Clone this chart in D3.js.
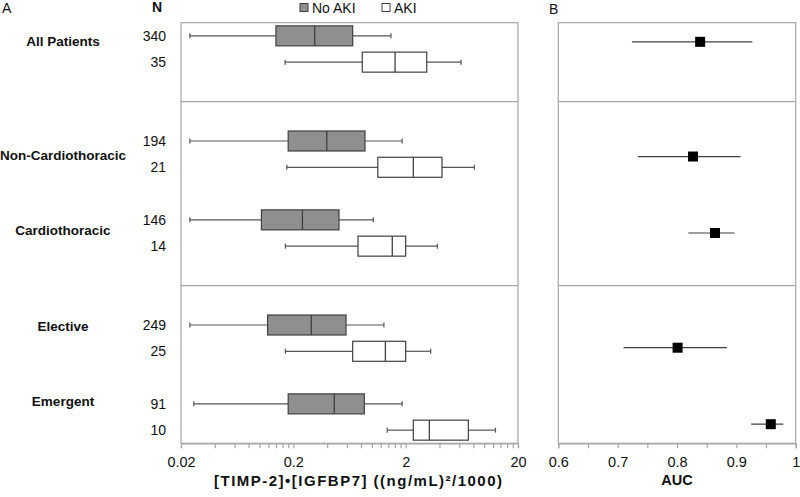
<!DOCTYPE html>
<html>
<head>
<meta charset="utf-8">
<script src="https://cdn.jsdelivr.net/npm/d3@7"></script>
<style>
  html, body { margin: 0; padding: 0; background: #fff; }
  svg { display: block; font-family: "Liberation Sans", Arial, sans-serif; }
</style>
</head>
<body>
<svg id="chart" width="800" height="497"></svg>
<script>
// ---------------- data ----------------
const groups = ["All Patients", "Non-Cardiothoracic", "Cardiothoracic", "Elective", "Emergent"];
const nNoAKI = [340, 194, 146, 249, 91];
const nAKI = [35, 21, 14, 25, 10];
// [whisker low, Q1, median, Q3, whisker high]
const noAkiStats = [
  [0.024, 0.140, 0.310, 0.675, 1.48],
  [0.024, 0.180, 0.397, 0.869, 1.86],
  [0.024, 0.104, 0.241, 0.510, 1.03],
  [0.024, 0.118, 0.289, 0.589, 1.28],
  [0.026, 0.180, 0.463, 0.857, 1.86]
];
const akiStats = [
  [0.169, 0.822, 1.61, 3.08, 6.22],
  [0.175, 1.13, 2.34, 4.21, 8.17],
  [0.170, 0.753, 1.52, 2.00, 3.83],
  [0.170, 0.675, 1.32, 2.00, 3.34],
  [1.37, 2.34, 3.25, 7.23, 12.6]
];
const noAkiRow = [0, 4, 7, 11, 14];
const akiRow = [1, 5, 8, 12, 15];
const labelRow = [0.2, 4.55, 7.4, 11.05, 13.9];
const dividerRow = [2.5, 9.5];

const auc = [0.839, 0.827, 0.864, 0.801, 0.958];
const aucLo = [0.724, 0.734, 0.819, 0.710, 0.925];
const aucHi = [0.927, 0.907, 0.897, 0.884, 0.979];
const aucY = [11, 8, 6, 3, 1];

const xTicksA = [0.02, 0.2, 2, 20];
const xTicksB = [0.6, 0.7, 0.8, 0.9, 1];
const legendItems = ["No AKI", "AKI"];

// ---------------- layout ----------------
const svg = d3.select("#chart");
const yTop = 22.7, yBottom = 443.3;
const xA = d3.scaleLog().domain([0.02, 20]).range([181, 518]);
const xB = d3.scaleLinear().domain([0.6, 1]).range([558.3, 795.7]);
const yA = d3.scaleLinear().domain([-0.5, 15.5]).range([yTop, yBottom]);
const yB = d3.scaleLinear().domain([11.5, 0.5]).range([yTop, yBottom]);

const gridCol = "#a6a6a6";
const darkCol = "#404040";
const grayFill = "#8f8f8f";
const boxH = 20;

// panel frames
function frame(x) {
  svg.append("rect")
    .attr("x", x.range()[0]).attr("y", yTop)
    .attr("width", x.range()[1] - x.range()[0]).attr("height", yBottom - yTop)
    .attr("fill", "none").attr("stroke", gridCol).attr("stroke-width", 1.2);
  svg.selectAll(null).data(dividerRow).enter().append("line")
    .attr("x1", x.range()[0]).attr("x2", x.range()[1])
    .attr("y1", d => yA(d)).attr("y2", d => yA(d))
    .attr("stroke", gridCol).attr("stroke-width", 1.2);
}
frame(xA);
frame(xB);

// ---------------- axes ----------------
// minor log ticks (Excel style: multiples of the decade start)
const minorA = [];
xTicksA.slice(0, -1).forEach(t => { for (let k = 2; k <= 9; k++) minorA.push(t * k); });
const axA = svg.append("g").attr("transform", `translate(0,${yBottom})`)
  .call(d3.axisBottom(xA).tickValues(xTicksA.concat(minorA)).tickSize(5).tickPadding(8)
    .tickFormat(d => xTicksA.includes(d) ? d3.format("~g")(d) : ""));
const axB = svg.append("g").attr("transform", `translate(0,${yBottom})`)
  .call(d3.axisBottom(xB).tickValues(d3.range(0.6, 1.0001, 0.05)).tickSize(5).tickPadding(8)
    .tickFormat(d => xTicksB.some(t => Math.abs(t - d) < 1e-6) ? d3.format("~g")(d) : ""));
[axA, axB].forEach(ax => {
  ax.select(".domain").attr("stroke", gridCol).attr("stroke-width", 1.2);
  ax.selectAll(".tick line").attr("stroke", gridCol).attr("stroke-width", 1.2);
  ax.selectAll(".tick text").attr("fill", "#111").style("font-size", "14.5px")
    .style("font-family", "'Liberation Sans', Arial, sans-serif");
});

svg.append("text").attr("x", 358).attr("y", 486).attr("text-anchor", "middle")
  .style("font-size", "15px").style("font-weight", "bold").attr("fill", "#111")
  .attr("textLength", 288).attr("lengthAdjust", "spacing")
  .text("[TIMP-2]\u2022[IGFBP7] ((ng/mL)\u00B2/1000)");
svg.append("text").attr("x", xB(0.8)).attr("y", 485).attr("text-anchor", "middle")
  .style("font-size", "14.5px").style("font-weight", "bold").attr("fill", "#111")
  .text("AUC");

// ---------------- box plots ----------------
function drawBoxes(stats, rows, fill) {
  const g = svg.append("g");
  stats.forEach((s, i) => {
    const yc = yA(rows[i]);
    const [lo, q1, med, q3, hi] = s;
    g.append("line").attr("x1", xA(lo)).attr("x2", xA(q1)).attr("y1", yc).attr("y2", yc)
      .attr("stroke", "#555").attr("stroke-width", 1.2);
    g.append("line").attr("x1", xA(q3)).attr("x2", xA(hi)).attr("y1", yc).attr("y2", yc)
      .attr("stroke", "#555").attr("stroke-width", 1.2);
    [lo, hi].forEach(v => g.append("line").attr("x1", xA(v)).attr("x2", xA(v))
      .attr("y1", yc - 2.5).attr("y2", yc + 2.5).attr("stroke", "#555").attr("stroke-width", 1.2));
    g.append("rect").attr("x", xA(q1)).attr("y", yc - boxH / 2)
      .attr("width", xA(q3) - xA(q1)).attr("height", boxH)
      .attr("fill", fill).attr("stroke", darkCol).attr("stroke-width", 1.2);
    g.append("line").attr("x1", xA(med)).attr("x2", xA(med))
      .attr("y1", yc - boxH / 2).attr("y2", yc + boxH / 2)
      .attr("stroke", darkCol).attr("stroke-width", 1.3);
  });
}
drawBoxes(noAkiStats, noAkiRow, grayFill);
drawBoxes(akiStats, akiRow, "#ffffff");

// ---------------- AUC forest ----------------
const gB = svg.append("g");
auc.forEach((a, i) => {
  const yc = yB(aucY[i]);
  gB.append("line").attr("x1", xB(aucLo[i])).attr("x2", xB(aucHi[i]))
    .attr("y1", yc).attr("y2", yc).attr("stroke", darkCol).attr("stroke-width", 1.2);
  gB.append("rect").attr("x", xB(a) - 5).attr("y", yc - 5).attr("width", 10).attr("height", 10)
    .attr("fill", "#000");
});

// ---------------- labels ----------------
const gL = svg.append("g").style("font-size", "14px").attr("fill", "#111");
groups.forEach((name, i) => {
  gL.append("text").attr("x", 63).attr("y", yA(labelRow[i])).attr("dy", "0.35em")
    .attr("text-anchor", "middle").style("font-weight", "bold").style("font-size", "13.5px")
    .text(name);
  gL.append("text").attr("x", 166).attr("y", yA(noAkiRow[i])).attr("dy", "0.35em")
    .attr("text-anchor", "end").text(nNoAKI[i]);
  gL.append("text").attr("x", 166).attr("y", yA(akiRow[i])).attr("dy", "0.35em")
    .attr("text-anchor", "end").text(nAKI[i]);
});
gL.append("text").attr("x", 157).attr("y", 12).attr("text-anchor", "middle")
  .style("font-weight", "bold").text("N");
svg.append("text").attr("x", 2).attr("y", 13).style("font-size", "14px").attr("fill", "#111").text("A");
svg.append("text").attr("x", 549).attr("y", 14).style("font-size", "14px").attr("fill", "#111").text("B");

// legend
const legX = [300, 382];
const legFill = [grayFill, "#ffffff"];
legendItems.forEach((t, i) => {
  svg.append("rect").attr("x", legX[i]).attr("y", 3.5).attr("width", 8).attr("height", 8)
    .attr("fill", legFill[i]).attr("stroke", darkCol).attr("stroke-width", 1);
  svg.append("text").attr("x", legX[i] + 12).attr("y", 13).style("font-size", "14px")
    .attr("fill", "#111").text(t);
});
</script>
</body>
</html>
